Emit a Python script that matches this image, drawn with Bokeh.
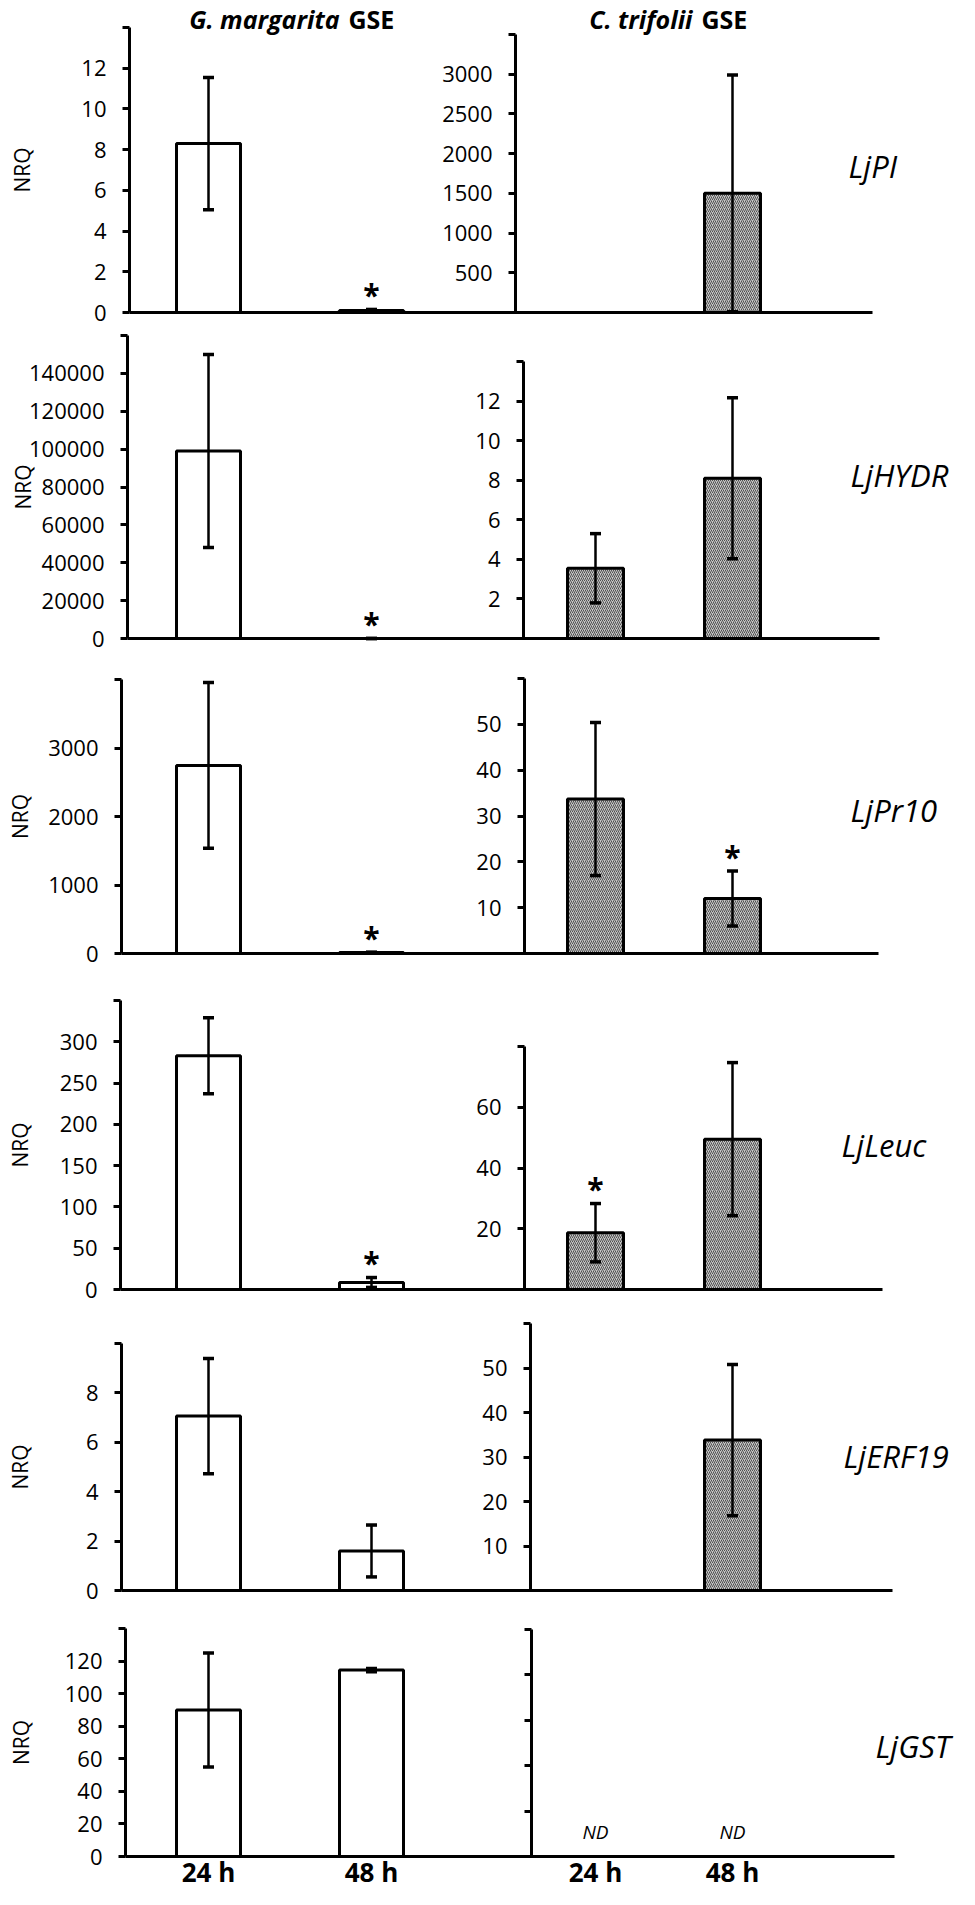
import numpy as np
from bokeh.plotting import figure
from bokeh.layouts import column
from bokeh.models import (Range1d, LinearAxis, FixedTicker, BasicTickFormatter,
                          Whisker, TeeHead, ColumnDataSource, Grid)
from bokeh.core.properties import value
from bokeh.embed import file_html
from bokeh.resources import INLINE

# ---------------- data ----------------
genes = ["LjPI", "LjHYDR", "LjPr10", "LjLeuc", "LjERF19", "LjGST"]
times = ["24 h", "48 h"]
group_titles = [("G. margarita", "GSE"), ("C. trifolii", "GSE")]

# G. margarita GSE (NRQ mean, error)
gm_nrq = [[8.3, 0.1], [99000, 2], [2745, 15], [283, 8.5], [7.06, 1.6], [90, 114.5]]
gm_err = [[3.25, 0.05], [51000, 1], [1210, 5], [46, 6], [2.33, 1.05], [35, 1]]
gm_sig = [[False, True], [False, True], [False, True], [False, True], [False, False], [False, False]]

# C. trifolii GSE (NRQ mean, error); None = not detected
ct_nrq = [[0, 1500], [3.55, 8.1], [33.7, 12.0], [18.7, 49.5], [0, 33.8], [None, None]]
ct_err = [[0, 1490], [1.75, 4.07], [16.7, 6.0], [9.6, 25.2], [0, 17.0], [None, None]]
ct_sig = [[False, False], [False, False], [False, True], [True, False], [False, False], [False, False]]

# axis scales
left_axis_max = [14, 160000, 4000, 350, 10, 140]
left_axis_step = [2, 20000, 1000, 50, 2, 20]
right_axis_max = [3500, 14, 60, 80, 60, 5]
right_axis_step = [500, 2, 10, 20, 10, 1]

# ---------------- layout (page pixels) ----------------
ROW_TOP = [8, 337, 664, 982, 1315, 1616]
ROW_BOTTOM = [337, 664, 982, 1315, 1616, 1897]
ZERO_Y = [320, 646, 961, 1297, 1598, 1864]
TOP_L = [35, 343, 687, 1008, 1351, 1636]
TOP_R = [42, 369, 686, 1054, 1331, 1637]
AXIS_L = [137, 135, 129, 128, 129, 133]
AXIS_R = [523, 531, 532, 532, 538, 539]
END_X = [880, 887, 886, 890, 900, 902]
NRQ_STANDOFF = [42, -11, 11, 23, 49, 27]
GENE_X = [856, 858, 858, 849, 851, 883]
GENE_Y = [173, 482, 817, 1152, 1463, 1753]
LEFT_C0, LEFT_DX = 216, 163
RIGHT_C0, RIGHT_DX = 603, 137
BAR_W_L, BAR_W_R = 64, 56
FONT = "Open Sans"

left_x = [LEFT_C0 + i * LEFT_DX for i in range(len(times))]
right_x = [RIGHT_C0 + i * RIGHT_DX for i in range(len(times))]


def style_axis(ax, size="22px"):
    ax.axis_line_width = 3
    ax.axis_line_color = "black"
    ax.major_tick_line_width = 3
    ax.major_tick_line_color = "black"
    ax.major_tick_out = 7
    ax.major_tick_in = 0
    ax.minor_tick_out = 0
    ax.minor_tick_in = 0
    ax.major_label_text_font = FONT
    ax.major_label_text_font_size = size
    ax.major_label_text_color = "black"
    ax.major_label_standoff = 16


def add_whiskers(p, xs, vals, errs, range_name):
    b, lo, up = [], [], []
    for x, v, e in zip(xs, vals, errs):
        if v is None or e is None or e <= 0:
            continue
        b.append(x)
        lo.append(max(v - e, 0))
        up.append(v + e)
    if not b:
        return
    src = ColumnDataSource(dict(base=b, lower=lo, upper=up))
    w = Whisker(source=src, base="base", lower="lower", upper="upper",
                line_width=2.5, line_color="black", level="annotation",
                upper_head=TeeHead(size=11, line_width=3.5, line_color="black"),
                lower_head=TeeHead(size=11, line_width=3.5, line_color="black"))
    if range_name:
        w.y_range_name = range_name
    p.add_layout(w)


def make_row(r):
    top, bot, zero = ROW_TOP[r], ROW_BOTTOM[r], ZERO_Y[r]
    kL = (zero - TOP_L[r]) / left_axis_max[r]
    kR = (zero - TOP_R[r]) / right_axis_max[r]
    p = figure(width=959, height=bot - top,
               x_range=Range1d(8, 967),
               y_range=Range1d(-(bot - zero) / kL, (zero - top) / kL),
               output_backend="svg", toolbar_location=None,
               x_axis_location=None, y_axis_location=None,
               min_border=0, min_border_left=0, min_border_right=0,
               min_border_top=0, min_border_bottom=0)
    for g in p.select(type=Grid):
        g.visible = False
    p.center = [c for c in p.center if not isinstance(c, Grid)]
    p.outline_line_color = None
    p.background_fill_color = "white"
    p.border_fill_color = "white"
    p.extra_y_ranges = {"right": Range1d(-(bot - zero) / kR, (zero - top) / kR)}

    # left y axis
    nL = int(round(left_axis_max[r] / left_axis_step[r]))
    ticksL = [i * left_axis_step[r] for i in range(nL + 1)]
    yl = LinearAxis(fixed_location=AXIS_L[r], bounds=(0, left_axis_max[r]),
                    ticker=FixedTicker(ticks=ticksL, minor_ticks=[]),
                    formatter=BasicTickFormatter(use_scientific=False),
                    axis_label="NRQ")
    style_axis(yl)
    yl.major_label_overrides = {ticksL[-1]: ""}
    yl.axis_label_text_font = FONT
    yl.axis_label_text_font_style = "normal"
    yl.axis_label_text_font_size = "21px"
    yl.axis_label_text_color = "black"
    yl.axis_label_standoff = NRQ_STANDOFF[r]
    p.add_layout(yl, "left")

    # right y axis
    nR = int(round(right_axis_max[r] / right_axis_step[r]))
    ticksR = [i * right_axis_step[r] for i in range(nR + 1)]
    yr = LinearAxis(y_range_name="right", fixed_location=AXIS_R[r],
                    bounds=(0, right_axis_max[r]),
                    ticker=FixedTicker(ticks=ticksR, minor_ticks=[]),
                    formatter=BasicTickFormatter(use_scientific=False))
    style_axis(yr)
    if all(v is None for v in ct_nrq[r]):
        yr.major_label_overrides = {t: "" for t in ticksR}
    else:
        yr.major_label_overrides = {0: "", ticksR[-1]: ""}
    p.add_layout(yr, "left")

    # baseline x axis
    last = (r == len(genes) - 1)
    xt = (left_x + right_x) if last else []
    xa = LinearAxis(fixed_location=0, bounds=(AXIS_L[r], END_X[r]),
                    ticker=FixedTicker(ticks=xt, minor_ticks=[]))
    style_axis(xa, "26px")
    xa.major_tick_out = 0
    xa.major_label_text_font_style = "bold"
    xa.major_label_standoff = -3
    if last:
        xa.major_label_overrides = {x: t for x, t in zip(xt, times + times)}
    p.add_layout(xa, "below")

    # G. margarita bars
    p.vbar(x=left_x, top=gm_nrq[r], bottom=0, width=BAR_W_L,
           fill_color="white", line_color="black", line_width=3)
    add_whiskers(p, left_x, gm_nrq[r], gm_err[r], None)

    # C. trifolii bars
    cx = [x for x, v in zip(right_x, ct_nrq[r]) if v is not None]
    cv = [v for v in ct_nrq[r] if v is not None]
    if cx:
        p.vbar(x=cx, top=cv, bottom=0, width=BAR_W_R, y_range_name="right",
               fill_color="#c6c6c6", line_color="black", line_width=3,
               hatch_pattern="right_diagonal_line", hatch_color="#505050",
               hatch_scale=4, hatch_weight=1)
    add_whiskers(p, right_x, ct_nrq[r], ct_err[r], "right")

    # significance asterisks
    sx = [x for x, s in zip(left_x, gm_sig[r]) if s]
    sy = [v + e for v, e, s in zip(gm_nrq[r], gm_err[r], gm_sig[r]) if s]
    if sx:
        p.text(x=sx, y=sy, text=["*"] * len(sx), text_font=value(FONT),
               text_font_style="bold", text_font_size="30px", text_align="center",
               text_baseline="alphabetic", y_offset=-15, text_color="black")
    sx = [x for x, s in zip(right_x, ct_sig[r]) if s]
    sy = [v + e for v, e, s in zip(ct_nrq[r], ct_err[r], ct_sig[r]) if s]
    if sx:
        p.text(x=sx, y=sy, text=["*"] * len(sx), text_font=value(FONT),
               text_font_style="bold", text_font_size="30px", text_align="center",
               text_baseline="alphabetic", y_offset=-15, text_color="black",
               y_range_name="right")

    # not detected
    nx = [x for x, v in zip(right_x, ct_nrq[r]) if v is None]
    if nx:
        p.text(x=nx, y=[0] * len(nx), text=["ND"] * len(nx), text_font=value(FONT),
               text_font_style="italic", text_font_size="19px", text_align="center",
               text_baseline="middle", y_offset=-25, text_color="black")

    # gene label
    p.text(x=[GENE_X[r]], y=[(zero - GENE_Y[r]) / kL], text=[genes[r]],
           text_font=value(FONT), text_font_style="italic", text_font_size="31px",
           text_align="left", text_baseline="middle", text_color="black")

    # group titles
    if r == 0:
        ty = (zero - 26) / kL
        for (it, bt), xc in zip(group_titles, [351, 704]):
            p.text(x=[xc - 4], y=[ty], text=[it], text_font=value(FONT),
                   text_font_style="bold italic", text_font_size="25px",
                   text_align="right", text_baseline="middle", text_color="black")
            p.text(x=[xc + 5], y=[ty], text=[bt], text_font=value(FONT),
                   text_font_style="bold", text_font_size="25px",
                   text_align="left", text_baseline="middle", text_color="black")
    return p


figs = [make_row(r) for r in range(len(genes))]
layout = column(*figs, spacing=0)
open("out.html", "w").write(file_html(layout, INLINE))
